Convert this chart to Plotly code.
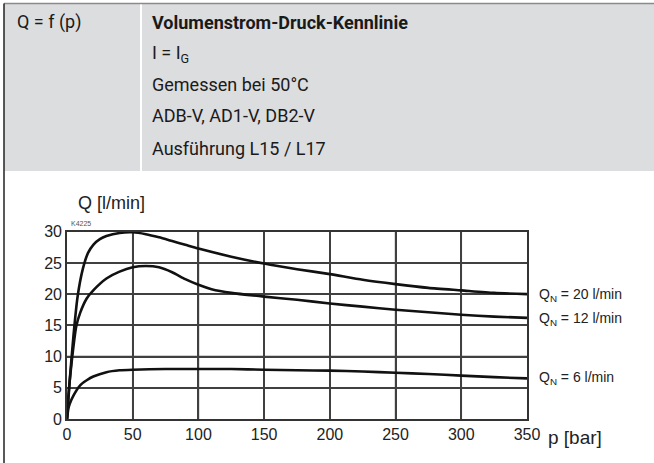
import plotly.graph_objects as go

W, H = 654, 463

# Data
p_20 = [0, 2, 5, 8, 12, 16, 20, 25, 30, 40, 50, 60, 70, 80, 90, 100, 125, 150, 175, 200, 225, 250, 275, 300, 325, 350]
q_20 = [0, 6, 13.5, 19.5, 24.0, 26.6, 27.9, 28.8, 29.3, 29.8, 29.9, 29.6, 29.1, 28.5, 27.9, 27.3, 26.0, 24.9, 24.0, 23.2, 22.3, 21.6, 21.0, 20.6, 20.2, 20.0]

p_12 = [0, 1, 2, 4, 7, 10, 15, 20, 30, 40, 50, 60, 70, 80, 90, 100, 110, 125, 150, 175, 200, 225, 250, 275, 300, 325, 350]
q_12 = [0, 3.5, 6, 10, 14.8, 17, 19.3, 20.6, 22.5, 23.6, 24.3, 24.5, 24.3, 23.5, 22.4, 21.5, 20.8, 20.2, 19.6, 19.1, 18.5, 18.0, 17.5, 17.1, 16.7, 16.4, 16.2]

p_6 = [0, 1, 2, 5, 10, 15, 20, 30, 40, 50, 75, 100, 125, 150, 175, 200, 225, 250, 275, 300, 325, 350]
q_6 = [0, 1.6, 2.4, 3.8, 5.4, 6.2, 6.8, 7.5, 7.8, 7.9, 8.0, 8.0, 8.0, 7.9, 7.8, 7.75, 7.6, 7.4, 7.2, 6.95, 6.7, 6.5]

x_ticks = [0, 50, 100, 150, 200, 250, 300, 350]
y_ticks = [0, 5, 10, 15, 20, 25, 30]

series_labels = ["Q<sub>N</sub> = 20 l/min", "Q<sub>N</sub> = 12 l/min", "Q<sub>N</sub> = 6 l/min"]

header_left = "Q = f (p)"
header_lines = ["<b>Volumenstrom-Druck-Kennlinie</b>", "I = I<sub>G</sub>", "Gemessen bei 50°C",
                "ADB-V, AD1-V, DB2-V", "Ausführung L15 / L17"]


def px_x(x):
    return x / W


def px_y(y):
    return 1 - y / H


fig = go.Figure()
for px_, q_ in [(p_20, q_20), (p_12, q_12), (p_6, q_6)]:
    fig.add_trace(go.Scatter(x=px_, y=q_, mode="lines", line=dict(color="#111111", width=2.6, shape="spline", smoothing=0.6),
                             hoverinfo="skip", showlegend=False, cliponaxis=True))

x0, x1 = 67, 527
y0, y1 = 419, 231.7

tickfont = dict(family="Liberation Sans, Arial", size=16, color="#222222")
GRID = "#404040"

fig.update_layout(
    template="none",
    width=W, height=H,
    margin=dict(l=0, r=0, t=0, b=0, pad=0),
    paper_bgcolor="white", plot_bgcolor="white",
    showlegend=False,
)
fig.update_xaxes(domain=[px_x(x0), px_x(x1)], range=[0, 350], tickmode="array", tickvals=x_ticks,
                 showgrid=True, gridcolor=GRID, gridwidth=1.5, zeroline=False,
                 showline=True, linecolor="#333333", linewidth=1.6, mirror=True, ticks="",
                 tickfont=tickfont)
fig.update_yaxes(domain=[px_y(y0), px_y(y1)], range=[0, 30], tickmode="array", tickvals=y_ticks,
                 showgrid=True, gridcolor=GRID, gridwidth=1.5, zeroline=False,
                 showline=True, linecolor="#333333", linewidth=1.6, mirror=True, ticks="",
                 tickfont=tickfont)

shapes = [
    # header grey band
    dict(type="rect", xref="paper", yref="paper", x0=px_x(4), x1=1, y0=px_y(171), y1=px_y(3.5),
         fillcolor="#dcdddf", line=dict(width=0)),
    # top border line
    dict(type="line", xref="paper", yref="paper", x0=px_x(4), x1=1, y0=px_y(3.5), y1=px_y(3.5),
         line=dict(color="#8a8a8a", width=1.5)),
    # left border line
    dict(type="line", xref="paper", yref="paper", x0=px_x(4), x1=px_x(4), y0=0, y1=px_y(3.5),
         line=dict(color="#222222", width=1.5)),
    # white divider in header
    dict(type="line", xref="paper", yref="paper", x0=px_x(141), x1=px_x(141), y0=px_y(171), y1=px_y(4.5),
         line=dict(color="white", width=2)),
]
# grid lines built from the tick arrays (through the axis scales)
for xv in x_ticks[1:-1]:
    shapes.append(dict(type="line", xref="x", yref="y domain", x0=xv, x1=xv, y0=0, y1=1,
                       line=dict(color=GRID, width=1.5), layer="below"))
for yv in y_ticks[1:-1]:
    shapes.append(dict(type="line", xref="x domain", yref="y", x0=0, x1=1, y0=yv, y1=yv,
                       line=dict(color=GRID, width=1.5), layer="below"))
fig.update_layout(shapes=shapes)

ann = []
hfont = dict(family="Roboto, Liberation Sans Narrow, Arial", size=18, color="#1a1a1a")
ann.append(dict(x=px_x(15), y=px_y(22), xref="paper", yref="paper", text=header_left, showarrow=False,
                xanchor="left", yanchor="middle", font=hfont))
line_y = [22, 54, 85, 116, 148]
for t, yy in zip(header_lines, line_y):
    ann.append(dict(x=px_x(150), y=px_y(yy), xref="paper", yref="paper", text=t, showarrow=False,
                    xanchor="left", yanchor="middle", font=hfont))

afont = dict(family="Liberation Sans, Arial", size=18, color="#222222")
ann.append(dict(x=px_x(76), y=px_y(203), xref="paper", yref="paper", text="Q [l/min]", showarrow=False,
                xanchor="left", yanchor="middle", font=afont))
ann.append(dict(x=px_x(546), y=px_y(437), xref="paper", yref="paper", text="p [bar]", showarrow=False,
                xanchor="left", yanchor="middle", font=dict(family="Liberation Sans, Arial", size=19, color="#222222")))
ann.append(dict(x=px_x(69), y=px_y(224), xref="paper", yref="paper", text="K4225", showarrow=False,
                xanchor="left", yanchor="middle", font=dict(family="Liberation Sans, Arial", size=7, color="#555555")))

lfont = dict(family="Liberation Sans, Arial", size=14, color="#222222")
for t, yy in zip(series_labels, [295, 319, 378]):
    ann.append(dict(x=px_x(537), y=px_y(yy), xref="paper", yref="paper", text=t, showarrow=False,
                    xanchor="left", yanchor="middle", font=lfont))
fig.update_layout(annotations=ann)

fig.write_html(
    "out.html",
    config={"displayModeBar": False, "responsive": False},
    post_script="document.documentElement.style.margin='0';document.documentElement.style.overflow='hidden';"
                "document.body.style.margin='0';document.body.style.overflow='hidden';",
)
